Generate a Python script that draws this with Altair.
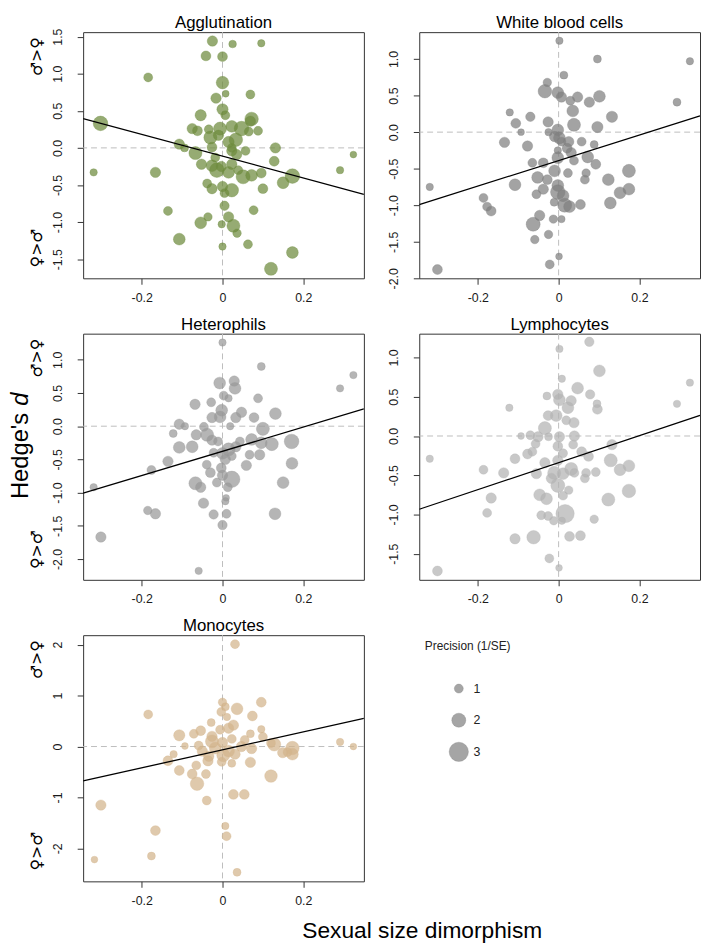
import altair as alt
import pandas as pd

# ---------------- data ----------------
panel_titles = ["Agglutination", "White blood cells", "Heterophils", "Lymphocytes", "Monocytes"]

agg_x = [-0.025, 0.025, 0.096, -0.041, 0.0, -0.184, 0.0, 0.008, 0.069, -0.016, 0.0, -0.054, 0.007, 0.072, 0.069,
         -0.302, -0.075, -0.062, -0.034, -0.006, 0.023, 0.047, 0.088, -0.030, -0.010, 0.033, 0.015, -0.107, -0.094,
         -0.067, -0.026, 0.023, 0.057, 0.035, 0.131, 0.128, 0.324, -0.052, -0.026, -0.003, -0.014, 0.015, 0.039,
         -0.319, -0.166, 0.051, 0.072, 0.096, 0.173, 0.150, 0.291, -0.038, -0.026, 0.0, 0.023, 0.100, 0.005, -0.135,
         0.005, 0.077, -0.036, 0.015, -0.054, -0.002, 0.027, 0.036, -0.107, 0.063, 0.0, 0.173, 0.120, 0.023, -0.018,
         0.065, 0.023]
agg_y = [1.44, 1.40, 1.41, 1.24, 1.23, 0.95, 0.88, 0.73, 0.72, 0.67, 0.52, 0.44, 0.44, 0.39, 0.36, 0.33, 0.26, 0.23,
         0.25, 0.26, 0.29, 0.26, 0.23, 0.14, 0.17, 0.11, 0.08, 0.05, 0.0, -0.07, 0.01, 0.0, -0.04, -0.09, 0.0, -0.18,
         -0.09, -0.22, -0.24, -0.25, -0.30, -0.33, -0.30, -0.33, -0.33, -0.39, -0.37, -0.34, -0.38, -0.47, -0.30,
         -0.48, -0.55, -0.52, -0.57, -0.55, -0.61, -0.85, -0.78, -0.84, -0.93, -0.93, -1.01, -1.03, -1.05, -1.15,
         -1.23, -1.30, -1.33, -1.41, -1.63, -0.04, -0.13, 0.22, -0.22]
agg_p = [1.3, 0.75, 0.7, 1.2, 1.2, 1.0, 1.7, 0.6, 1.0, 1.3, 1.45, 1.45, 1.0, 1.9, 1.3, 2.1, 1.3, 1.2, 1.0, 1.8, 1.55,
         2.1, 1.0, 1.8, 1.3, 1.9, 1.45, 1.3, 0.8, 1.8, 1.2, 1.0, 1.0, 1.3, 1.3, 1.2, 0.6, 1.3, 1.55, 1.3, 2.1, 1.55,
         1.0, 0.7, 1.3, 2.0, 1.55, 1.2, 2.1, 1.55, 0.7, 1.0, 1.3, 1.3, 1.9, 1.2, 1.0, 1.0, 1.1, 1.0, 0.9, 1.3, 1.55,
         0.7, 1.8, 0.9, 1.55, 1.0, 0.7, 1.55, 1.8, 1.3, 1.0, 1.0, 1.3]

wbc_x = [0.002, 0.096, 0.325, 0.013, -0.028, -0.034, -0.002, 0.007, 0.047, 0.101, 0.076, 0.029, 0.293, 0.035, -0.121,
         -0.070, 0.132, -0.026, -0.106, 0.038, 0.096, -0.093, -0.025, -0.002, 0.002, -0.010, 0.007, -0.134, -0.077,
         0.025, 0.057, 0.088, -0.002, 0.021, 0.031, 0.072, 0.038, -0.002, -0.038, -0.065, 0.092, -0.010, 0.023, 0.068,
         0.174, -0.052, -0.028, 0.065, 0.123, -0.108, -0.002, -0.038, 0.174, -0.319, -0.002, 0.152, -0.055, 0.011,
         -0.186, -0.011, 0.128, 0.054, 0.015, 0.027, -0.177, -0.167, -0.047, -0.013, 0.007, -0.063, -0.025, -0.059,
         0.001, -0.022, -0.300]
wbc_y = [1.25, 1.0, 0.97, 0.78, 0.68, 0.56, 0.54, 0.48, 0.48, 0.49, 0.41, 0.43, 0.41, 0.29, 0.27, 0.21, 0.21, 0.14,
         0.12, 0.10, 0.07, 0.0, 0.0, 0.03, -0.08, -0.06, -0.13, -0.14, -0.19, -0.13, -0.13, -0.17, -0.25, -0.22,
         -0.28, -0.34, -0.39, -0.35, -0.42, -0.42, -0.44, -0.53, -0.56, -0.56, -0.53, -0.62, -0.65, -0.65, -0.65,
         -0.72, -0.73, -0.78, -0.78, -0.75, -0.82, -0.83, -0.85, -0.87, -0.90, -0.96, -0.97, -0.99, -1.0, -1.02,
         -1.02, -1.08, -1.14, -1.19, -1.19, -1.26, -1.40, -1.47, -1.70, -1.81, -1.88]
wbc_p = [0.7, 0.8, 0.7, 0.8, 0.9, 1.9, 1.55, 1.3, 1.3, 1.55, 1.3, 1.0, 0.8, 1.55, 0.7, 1.1, 1.45, 1.3, 1.2, 1.8, 1.45,
         0.6, 0.7, 1.55, 1.55, 1.3, 1.0, 1.3, 1.3, 1.3, 1.0, 0.8, 0.7, 1.2, 1.3, 1.55, 1.0, 1.55, 1.2, 1.0, 1.2, 1.55,
         1.0, 0.9, 1.8, 1.55, 1.2, 1.0, 1.55, 1.55, 1.55, 1.3, 1.55, 0.7, 2.1, 1.55, 1.0, 1.55, 1.0, 0.8, 1.55, 1.2,
         2.0, 1.55, 1.0, 1.2, 1.3, 0.9, 0.7, 2.0, 0.9, 0.9, 0.6, 1.0, 1.2]

het_x = [0.0, 0.096, 0.324, -0.007, 0.029, 0.031, 0.291, 0.003, 0.015, 0.088, -0.068, -0.028, -0.002, 0.047, 0.131,
         -0.026, -0.006, 0.033, 0.078, -0.107, -0.093, -0.046, 0.019, 0.100, -0.122, -0.065, -0.038, -0.026, -0.011,
         0.043, 0.072, 0.096, 0.171, 0.122, -0.107, -0.075, 0.033, 0.015, 0.0, 0.067, 0.092, 0.023, -0.135, 0.007,
         0.172, -0.039, 0.059, -0.003, -0.176, -0.030, 0.023, 0.0, -0.067, -0.054, -0.014, 0.013, 0.150, -0.319,
         0.009, 0.007, -0.047, -0.185, -0.166, -0.022, 0.010, 0.130, 0.0, -0.301, -0.059, -0.022]
het_y = [1.26, 0.90, 0.77, 0.65, 0.68, 0.57, 0.57, 0.46, 0.42, 0.42, 0.33, 0.36, 0.24, 0.21, 0.19, 0.13, 0.14, 0.13,
         0.13, 0.03, 0.0, -0.01, 0.0, -0.04, -0.11, -0.13, -0.13, -0.21, -0.23, -0.23, -0.20, -0.25, -0.23, -0.27,
         -0.32, -0.31, -0.31, -0.35, -0.41, -0.43, -0.43, -0.45, -0.53, -0.50, -0.56, -0.58, -0.59, -0.63, -0.66,
         -0.70, -0.80, -0.74, -0.86, -0.92, -0.85, -0.92, -0.85, -0.92, -1.08, -1.13, -1.16, -1.27, -1.32, -1.33,
         -1.32, -1.32, -1.49, -1.67, -2.18, -0.40]
het_p = [0.7, 0.8, 0.7, 1.55, 1.3, 1.55, 0.7, 1.0, 0.7, 1.0, 1.3, 1.0, 1.55, 1.3, 1.55, 1.3, 1.55, 1.3, 1.2, 1.3, 0.7,
         1.0, 0.7, 1.8, 0.8, 1.3, 1.8, 1.3, 1.0, 1.0, 1.55, 1.55, 2.1, 1.8, 1.55, 1.55, 1.3, 1.8, 1.55, 1.0, 1.3, 1.0,
         1.3, 1.3, 1.55, 1.0, 1.3, 1.2, 1.0, 1.2, 2.4, 1.3, 1.8, 1.3, 1.0, 1.0, 1.55, 0.7, 0.6, 0.7, 1.3, 0.9, 1.3,
         1.1, 1.0, 1.55, 1.1, 1.3, 0.7, 1.0]

lym_x = [0.076, 0.002, 0.101, 0.008, 0.325, 0.047, 0.078, -0.002, -0.029, 0.002, 0.031, 0.095, 0.293, 0.023, -0.122,
         0.096, -0.026, -0.006, 0.019, 0.038, -0.034, -0.093, -0.070, -0.051, -0.025, 0.002, 0.039, -0.057, -0.002,
         0.036, 0.132, -0.077, -0.065, 0.011, 0.057, 0.074, -0.319, -0.108, -0.002, 0.129, -0.034, 0.031, 0.174,
         -0.186, -0.136, -0.055, -0.011, 0.011, 0.039, 0.068, 0.092, 0.152, -0.018, 0.065, -0.002, 0.025, 0.174,
         -0.167, -0.047, -0.030, 0.011, 0.123, -0.177, -0.043, -0.026, 0.016, -0.012, 0.008, 0.088, -0.108, -0.062,
         0.027, 0.054, -0.023, 0.001, -0.300]
lym_y = [1.20, 1.11, 0.83, 0.73, 0.68, 0.61, 0.53, 0.53, 0.51, 0.46, 0.45, 0.41, 0.41, 0.36, 0.36, 0.34, 0.26, 0.26,
         0.20, 0.17, 0.10, 0.0, 0.01, -0.01, -0.01, -0.01, 0.0, -0.10, -0.13, -0.11, -0.11, -0.23, -0.20, -0.22,
         -0.20, -0.26, -0.29, -0.29, -0.31, -0.31, -0.34, -0.42, -0.38, -0.43, -0.47, -0.48, -0.47, -0.48, -0.47,
         -0.47, -0.46, -0.43, -0.54, -0.54, -0.63, -0.69, -0.70, -0.79, -0.75, -0.80, -0.76, -0.81, -0.98, -1.01,
         -1.02, -0.99, -1.08, -1.08, -1.06, -1.31, -1.29, -1.28, -1.27, -1.56, -1.68, -1.72]
lym_p = [1.1, 0.7, 1.55, 0.7, 0.7, 1.55, 1.1, 1.3, 0.8, 1.55, 1.3, 0.8, 0.7, 1.55, 0.7, 1.2, 1.2, 1.55, 1.0, 1.3, 1.8,
         0.6, 1.0, 1.3, 0.8, 1.3, 1.3, 1.0, 1.2, 1.0, 1.3, 1.2, 1.0, 1.0, 1.2, 1.2, 0.7, 1.2, 1.3, 1.8, 1.3, 1.8,
         1.55, 1.0, 1.3, 1.3, 1.8, 1.55, 1.0, 1.0, 1.0, 1.55, 1.3, 1.0, 2.0, 0.9, 1.9, 1.3, 1.55, 1.55, 1.0, 1.8,
         1.0, 1.0, 1.0, 2.8, 0.9, 0.7, 0.9, 1.3, 1.9, 1.2, 1.2, 1.0, 0.6, 1.2]

mon_x = [0.031, 0.096, 0.0, 0.007, 0.036, -0.184, -0.003, 0.011, 0.074, -0.028, 0.027, 0.015, 0.096, -0.054, -0.006,
         -0.107, -0.071, 0.069, -0.026, 0.100, 0.023, -0.026, 0.291, 0.0, -0.093, -0.059, 0.047, 0.128, 0.324, 0.120,
         -0.018, -0.050, 0.015, 0.072, 0.173, 0.161, 0.149, 0.173, -0.121, -0.034, 0.031, -0.135, -0.036, -0.002,
         0.023, 0.069, -0.065, -0.107, -0.075, -0.041, 0.120, -0.063, 0.027, 0.054, -0.039, -0.301, 0.007, 0.010,
         -0.166, -0.176, -0.317, 0.036, 0.055, 0.002]
mon_y = [2.01, 0.87, 0.87, 0.78, 0.74, 0.63, 0.68, 0.58, 0.60, 0.47, 0.42, 0.36, 0.34, 0.31, 0.33, 0.22, 0.25, 0.25,
         0.20, 0.19, 0.15, 0.10, 0.09, 0.08, 0.01, 0.02, 0.0, 0.04, 0.0, 0.07, -0.03, -0.09, -0.09, -0.04, -0.03,
         -0.11, -0.12, -0.15, -0.15, -0.19, -0.15, -0.28, -0.28, -0.30, -0.33, -0.31, -0.37, -0.47, -0.54, -0.54,
         -0.58, -0.73, -0.94, -0.94, -1.06, -1.15, -1.56, -1.76, -1.65, -2.15, -2.22, -2.47, 0.13, -0.17]
mon_p = [1.0, 1.2, 0.9, 0.8, 1.55, 1.0, 1.0, 0.7, 1.2, 0.8, 1.3, 1.3, 0.7, 1.2, 1.0, 1.45, 1.0, 0.8, 1.3, 1.0, 1.0,
         1.8, 0.7, 1.3, 0.6, 1.0, 1.3, 1.8, 0.6, 1.0, 1.55, 1.3, 1.55, 1.3, 1.9, 1.0, 1.3, 1.55, 0.7, 1.3, 1.3, 1.2,
         1.3, 1.0, 0.8, 1.3, 1.0, 1.2, 1.2, 1.0, 1.7, 1.9, 1.2, 1.2, 1.0, 1.3, 0.7, 1.0, 1.2, 0.8, 0.6, 0.8, 1.0, 1.8]

# regression lines (intercept, slope) per panel
intercepts = [-0.111, -0.389, -0.379, -0.340, -0.065]
slopes = [-1.47, 1.746, 1.83, 1.72, 1.763]

# axes
x_domain = [-0.345, 0.35]
x_ticks = [-0.2, 0, 0.2]
y_domains = [[-1.758, 1.56], [-2.0, 1.368], [-2.315, 1.394], [-1.833, 1.304], [-2.647, 2.186]]
y_ticks = [[-1.5, -1.0, -0.5, 0.0, 0.5, 1.0, 1.5],
           [-2.0, -1.5, -1.0, -0.5, 0.0, 0.5, 1.0],
           [-2.0, -1.5, -1.0, -0.5, 0.0, 0.5, 1.0],
           [-1.5, -1.0, -0.5, 0.0, 0.5, 1.0],
           [-2, -1, 0, 1, 2]]
y_formats = [".1f", ".1f", ".1f", ".1f", "d"]

colors = ["#6E8B3D", "#7F7F7F", "#999999", "#B3B3B3", "#D2B48C"]

legend_values = [1, 2, 3]
legend_title = "Precision (1/SE)"
y_title_main = "Hedge's"
y_title_italic = "d"
x_title = "Sexual size dimorphism"
top_label = "♂>♀"
bottom_label = "♀>♂"

# ---------------- styling ----------------
W, H = 284, 249
FONT = "Liberation Sans, Arial, DejaVu Sans, sans-serif"
SYMFONT = "DejaVu Sans, Liberation Sans, sans-serif"
# marker area for precision values (diameter ~ 4 + 6 * precision px)
size_scale = alt.Scale(domain=[0.5, 1.25, 2, 3], range=[38.5, 103.9, 201.1, 380.1])

panels_data = [(agg_x, agg_y, agg_p), (wbc_x, wbc_y, wbc_p), (het_x, het_y, het_p),
               (lym_x, lym_y, lym_p), (mon_x, mon_y, mon_p)]


def text_layer(txt, **kw):
    enc = {}
    for k in ("x", "y"):
        if k in kw:
            enc[k] = alt.value(kw.pop(k))
    return alt.Chart(pd.DataFrame({"t": [txt]})).mark_text(**kw).encode(text="t:N", **enc)


def make_panel(i, sex_labels=False, ylab=False, xlab=False):
    xs, ys, ps = panels_data[i]
    df = pd.DataFrame({"x": xs, "y": ys, "p": ps})
    xsc = alt.Scale(domain=x_domain, nice=False, zero=False)
    ysc = alt.Scale(domain=y_domains[i], nice=False, zero=False)
    x_axis = alt.Axis(values=x_ticks, title=None,
                      labelExpr="datum.value == 0 ? '0' : (datum.value < 0 ? '-' : '') + format(abs(datum.value), '.1f')")
    y_axis = alt.Axis(values=y_ticks[i], title=None,
                      labelExpr="(datum.value < 0 ? '-' : '') + format(abs(datum.value), '%s')" % y_formats[i])
    X = lambda: alt.X("x:Q", scale=xsc, axis=x_axis)
    Y = lambda: alt.Y("y:Q", scale=ysc, axis=y_axis)
    col = colors[i]
    vline = alt.Chart(pd.DataFrame({"x": [0]})).mark_rule(
        color="#bdbdbd", strokeDash=[6, 4], strokeWidth=1).encode(x=X())
    hline = alt.Chart(pd.DataFrame({"y": [0]})).mark_rule(
        color="#bdbdbd", strokeDash=[6, 4], strokeWidth=1).encode(y=Y())
    pts = alt.Chart(df).mark_circle(fill=col, fillOpacity=0.72, stroke=col, strokeOpacity=0.55,
                                    strokeWidth=0.6).encode(
        x=X(), y=Y(), size=alt.Size("p:Q", scale=size_scale, legend=None))
    line_df = pd.DataFrame({"x": x_domain, "y": [intercepts[i] + slopes[i] * v for v in x_domain]})
    reg = alt.Chart(line_df).mark_line(color="black", strokeWidth=1.3, clip=True).encode(x=X(), y=Y())
    title = text_layer(panel_titles[i], x=W / 2, y=-4, align="center", baseline="alphabetic",
                       fontSize=17, font=FONT, color="black")
    layers = [vline, hline, pts, reg, title]
    if sex_labels:
        layers += [
            text_layer(top_label, x=-47, y=5, angle=270, align="right", baseline="middle",
                       fontSize=16, font=SYMFONT, color="black"),
            text_layer(bottom_label, x=-47, y=H - 11, angle=270, align="left", baseline="middle",
                       fontSize=16, font=SYMFONT, color="black"),
        ]
    if ylab:
        layers += [
            text_layer(y_title_main, x=-75, y=80, angle=270, align="right", baseline="top",
                       fontSize=24, font=FONT, color="black"),
            text_layer(y_title_italic, x=-75, y=73, angle=270, align="left", baseline="top",
                       fontSize=24, font=FONT, fontStyle="italic", color="black"),
        ]
    if xlab:
        layers += [text_layer(x_title, x=343, y=H + 57, align="center", baseline="alphabetic",
                              fontSize=23, font=FONT, color="black")]
    return alt.layer(*layers).properties(width=W, height=H)


def make_legend():
    ldf = pd.DataFrame({"p": legend_values})
    ly = alt.Y("p:Q", scale=alt.Scale(domain=[1, 3], range=[54, 118]), axis=None)
    circ = alt.Chart(ldf).mark_circle(fill="#7F7F7F", fillOpacity=0.7, stroke="#7F7F7F",
                                      strokeOpacity=0.55, strokeWidth=0.6).encode(
        x=alt.value(40), y=ly, size=alt.Size("p:Q", scale=size_scale, legend=None))
    labs = alt.Chart(ldf).mark_text(align="left", baseline="middle", fontSize=12.5, font=FONT,
                                    color="#222222").encode(
        x=alt.value(55), y=ly, text="p:Q")
    ttl = text_layer(legend_title, x=49, y=11, align="center", baseline="middle", fontSize=12,
                     font=FONT, color="#222222")
    return alt.layer(circ, labs, ttl).properties(
        width=W, height=H, view=alt.ViewBackground(stroke="transparent"))


chart = alt.concat(
    make_panel(0, sex_labels=True), make_panel(1),
    make_panel(2, sex_labels=True, ylab=True), make_panel(3),
    make_panel(4, sex_labels=True, xlab=True), make_legend(),
    columns=2, spacing={"row": 56, "column": 56}, bounds="flush"
).properties(
    padding={"left": 0, "top": 0, "right": 0, "bottom": 0}
).configure_view(
    stroke="#333333", strokeWidth=1
).configure_axis(
    domain=False, grid=False, tickColor="#333333", tickSize=6, tickWidth=1,
    labelFont=FONT, labelFontSize=12.5, labelColor="#1a1a1a", labelOverlap=False
).configure_axisY(
    labelAngle=270, labelAlign="center", labelBaseline="bottom", labelPadding=13
).configure_axisX(
    labelPadding=7
)

chart.save("out.html", embed_options={"renderer": "svg", "actions": False})
